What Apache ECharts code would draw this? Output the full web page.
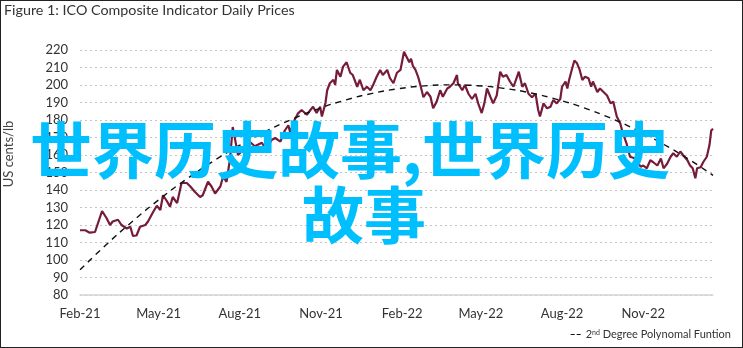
<!DOCTYPE html>
<html><head><meta charset="utf-8">
<script src="https://cdn.jsdelivr.net/npm/echarts@6/dist/echarts.min.js"></script>
<style>html,body{margin:0;padding:0;background:#fff}#c{width:743px;height:348px}#f{position:absolute;left:0;top:0;width:743px;height:348px;box-sizing:border-box;border:1px solid #222;pointer-events:none}</style>
</head><body><div id="c"></div><div id="f"></div>
<script>
const titleText = 'Figure 1: ICO Composite Indicator Daily Prices';
const yAxisTitle = 'US cents/lb';
const priceName = 'ICO Composite Indicator';
const trendName = '2nd Degree Polynomal Funtion';
const startDate = '2021-02-01';
const endDay = 717;
const tickDates = ['2021-02-01','2021-05-01','2021-08-01','2021-11-01','2022-02-01','2022-05-01','2022-08-01','2022-11-01'];
const tickLabels = ['Feb-21','May-21','Aug-21','Nov-21','Feb-22','May-22','Aug-22','Nov-22'];
// days since startDate
const priceDays = [0,1,6,11,17,25,30,34,37,43,47,53,57,60,64,68,74,77,83,87,91,94,98,102,105,110,115,121,125,130,136,139,145,149,153,159,162,166,170,173,179,185,190,198,206,211,217,221,227,232,236,238,243,247,251,257,261,264,268,272,274,278,280,283,287,289,291,295,298,302,306,309,314,317,321,325,329,332,336,340,343,348,351,355,359,363,367,370,373,375,377,380,383,385,389,393,397,400,404,408,411,416,419,423,427,428,433,436,440,444,448,451,455,458,461,465,468,472,476,479,483,487,491,495,497,501,504,508,512,516,519,521,525,529,533,536,540,544,546,550,552,554,557,560,563,566,569,572,576,579,581,586,589,593,597,601,604,608,612,614,619,623,629,635,638,642,646,649,654,658,661,665,669,672,676,680,683,688,691,694,697,699,703,706,710,713,715,717];
const priceValues = [117,117,117,115.6,116,128,124,120,122,123,120,118,119,113.7,114,119,120,122,127.6,131,128.6,137,134,130.5,136,132.5,144,144,142,139,136,137,144.7,142,138,142,147.6,144.7,158,176,160,163,168.6,165,167,163,168.6,169.7,167.6,174,177,173,180,183.8,185.7,183,185.7,187.6,184,187.6,182,189.7,197,201,203,200,208.6,204.7,210.5,213,207,205.7,199,203,197,199,197,200,204.7,208.6,205.7,208.6,204,201,207,208.6,219,216,213,215,211,208.6,204.7,201,193,196,193.3,186.7,190.5,197,193.3,198,199,201,205.7,201,197,200,195,192,195,189.5,184,189.5,198,193,189.5,194,207.6,204.7,205.7,202,199,204.7,207.6,199,201,195,193,195,185.7,182,189.5,186.7,187.6,191.4,189.5,192,199,202,198,202.9,208.6,214,212.4,208.6,202.9,204.7,203.8,199,202,196,198,196,194,189.5,190.5,182,178,174,166.7,159,158,153.3,154,152.4,157,156,154,158,152.4,155,159,161,159,162,160,157,154,152.4,146.7,152.4,153,156,159,165.7,174,175];
const trendDays = [0,30,60,90,120,150,180,210,240,270,300,330,360,390,420,450,480,510,540,570,600,630,660,690,717];
const trendValues = [94.4,108.9,122.3,134.7,146.0,156.2,165.3,173.4,180.4,186.4,191.3,195.1,197.8,199.5,200.1,199.6,198.1,195.5,191.8,187.1,181.3,174.4,166.4,157.4,148.4];
const watermarkLine1 = '世界历史故事,世界历史';
const watermarkLine2 = '故事';

const DAY = 86400000;
function toTs(s){const p=s.split('-').map(Number);return Date.UTC(p[0],p[1]-1,p[2]);}
const t0 = toTs(startDate);
const tickDays = tickDates.map(s=>Math.round((toTs(s)-t0)/DAY));
const priceData = priceDays.map((d,i)=>[d, priceValues[i]]);
const trendData = trendDays.map((d,i)=>[d, trendValues[i]]);

const chart = echarts.init(document.getElementById('c'), null, {renderer:'canvas'});
chart.setOption({
  animation:false,
  backgroundColor:'#fff',
  textStyle:{fontFamily:'Lato'},
  grid:{left:80,right:30,top:50,bottom:53},
  legend:{
    data:[{name:trendName,icon:'path://M0,0h4v1h-4z M6,0h4v1h-4z'}], right:7, bottom:3, itemWidth:10, itemHeight:1.5, itemGap:4,
    formatter:()=> '2{sup|nd} Degree Polynomal Funtion',
    itemStyle:{color:'#111'},
    textStyle:{fontSize:11,color:'#333',fontFamily:'Lato',rich:{sup:{fontSize:7,verticalAlign:'top',padding:[0,0,4,0]}}}
  },
  xAxis:{
    type:'value', min:0, max:endDay,
    axisLine:{show:true,onZero:false,lineStyle:{color:'#d4d4d4',width:1.5}},
    axisTick:{show:false},
    splitLine:{show:false},
    axisLabel:{customValues:tickDays, fontSize:13, color:'#333', margin:12,
      formatter:(v)=>{const i=tickDays.indexOf(v);return i>=0?tickLabels[i]:'';}}
  },
  yAxis:{
    type:'value', min:80, max:220, interval:10,
    axisLine:{show:false}, axisTick:{show:false},
    axisLabel:{fontSize:13,color:'#333',margin:12},
    splitLine:{lineStyle:{color:'#c4c4c4',type:[2,3],width:1}}
  },
  series:[
    {name:priceName,type:'line',data:priceData,showSymbol:false,symbol:'none',
     lineStyle:{color:'#761c3a',width:2.2},itemStyle:{color:'#761c3a'},z:3},
    {name:trendName,type:'line',data:trendData,smooth:true,showSymbol:false,symbol:'none',
     lineStyle:{color:'#111',width:1.4,type:[6,5]},itemStyle:{color:'#111'},z:4}
  ],
  graphic:[
    {type:'text',left:4,top:3,style:{text:titleText,fontSize:14.3,fill:'#333',fontFamily:'Lato'}},
    {type:'text',x:9,y:154,rotation:Math.PI/2,style:{text:yAxisTitle,fontSize:13,fill:'#444',fontFamily:'Lato',align:'center',verticalAlign:'middle'}},
    {type:'text',x:350,y:150,z:100,style:{text:watermarkLine1,fontSize:62,fontWeight:'bold',fill:'#00bfff',fontFamily:'Noto Sans CJK SC',align:'center',verticalAlign:'middle'}},
    {type:'text',x:364,y:215,z:100,style:{text:watermarkLine2,fontSize:62,fontWeight:'bold',fill:'#00bfff',fontFamily:'Noto Sans CJK SC',align:'center',verticalAlign:'middle'}}
  ]
});
</script></body></html>
